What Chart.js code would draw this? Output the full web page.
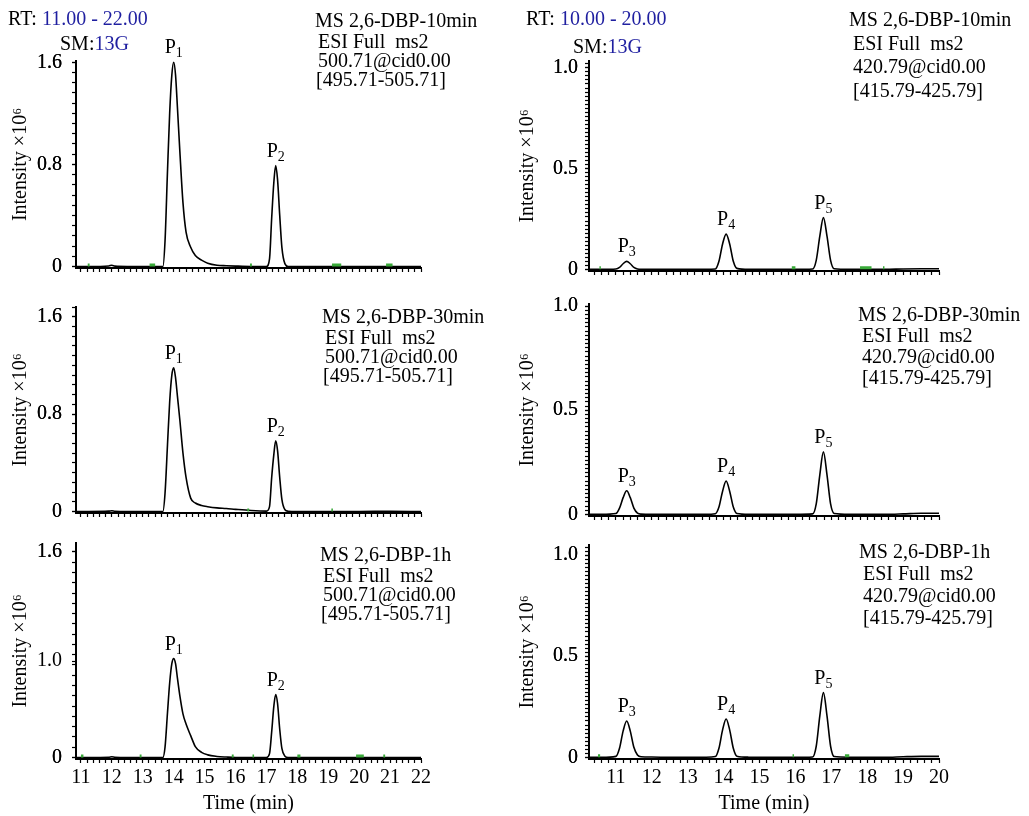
<!DOCTYPE html>
<html>
<head>
<meta charset="utf-8">
<script src="https://cdn.jsdelivr.net/npm/chart.js@4.4.1/dist/chart.umd.min.js"></script>
<style>
  html, body { margin: 0; padding: 0; background: #fff; }
  body { width: 1029px; height: 816px; position: relative; overflow: hidden; }
  canvas { position: absolute; }
</style>
</head>
<body>
<canvas id="tl"></canvas>
<canvas id="tr"></canvas>
<canvas id="ml"></canvas>
<canvas id="mr"></canvas>
<canvas id="bl"></canvas>
<canvas id="br"></canvas>
<script>
// ---- data: m/z 500.71 traces (left column), time in min, intensity x10^6
const timeL = [10.84, 11.25, 11.9, 12.0, 12.1, 12.5, 13.0, 13.5, 13.65, 13.72, 13.8, 13.87, 13.94, 14.0,
  14.06, 14.12, 14.2, 14.3, 14.4, 14.55, 14.7, 14.9, 15.1, 15.4, 15.7, 16.0, 16.5, 17.0, 17.1, 17.17,
  17.24, 17.3, 17.36, 17.43, 17.5, 17.6, 17.7, 18.0, 19.0, 20.0, 21.0, 22.0];
const int10L = [0, 0, 0.004, 0.01, 0.003, 0, 0, 0, 0, 0.2, 0.75, 1.2, 1.5, 1.6,
  1.5, 1.25, 0.9, 0.5, 0.27, 0.15, 0.085, 0.05, 0.026, 0.01, 0.006, 0.003, 0, 0, 0.06, 0.38,
  0.66, 0.79, 0.68, 0.4, 0.15, 0.02, 0, 0, 0, 0, 0, 0];
const int30L = [0, 0, 0.003, 0.006, 0.002, 0, 0, 0, 0, 0.15, 0.55, 0.9, 1.12, 1.18,
  1.1, 0.95, 0.75, 0.48, 0.28, 0.11, 0.07, 0.05, 0.04, 0.03, 0.025, 0.018, 0.008, 0.003, 0.04, 0.28,
  0.47, 0.58, 0.5, 0.28, 0.1, 0.015, 0.003, 0, 0, 0, 0.002, 0];
const int1hL = [0, 0, 0.002, 0.005, 0.002, 0, 0, 0, 0, 0.08, 0.35, 0.58, 0.73, 0.77,
  0.73, 0.62, 0.48, 0.34, 0.26, 0.17, 0.085, 0.04, 0.02, 0.008, 0.003, 0, 0, 0, 0.03, 0.2,
  0.4, 0.49, 0.42, 0.22, 0.07, 0.01, 0, 0, 0, 0, 0, 0];

// ---- data: m/z 420.79 traces (right column)
const timeR = [10.25, 10.6, 11.0, 11.1, 11.2, 11.3, 11.4, 11.5, 11.6, 11.7, 12.0, 12.5, 13.0, 13.5,
  13.77, 13.87, 13.97, 14.07, 14.17, 14.27, 14.37, 14.7, 15.0, 15.5, 16.0, 16.48, 16.58, 16.68,
  16.78, 16.88, 16.98, 17.08, 17.5, 18.0, 18.5, 19.0, 19.5, 20.0];
const int10R = [0, 0, 0.002, 0.01, 0.028, 0.04, 0.028, 0.01, 0.002, 0, 0, 0, 0, 0,
  0.002, 0.04, 0.125, 0.175, 0.125, 0.04, 0.005, 0, 0, 0, 0, 0.002, 0.045, 0.165,
  0.257, 0.165, 0.045, 0.003, 0, 0, 0, 0.002, 0.003, 0.003];
const int30R = [0, 0, 0.004, 0.03, 0.08, 0.113, 0.08, 0.03, 0.006, 0.001, 0, 0, 0, 0,
  0.003, 0.035, 0.11, 0.16, 0.11, 0.035, 0.004, 0, 0, 0, 0, 0.002, 0.05, 0.19,
  0.3, 0.19, 0.05, 0.004, 0, 0, 0, 0.002, 0.005, 0.005];
const int1hR = [0, 0, 0.005, 0.045, 0.13, 0.18, 0.13, 0.05, 0.012, 0.003, 0.002, 0, 0, 0.001,
  0.004, 0.045, 0.135, 0.19, 0.135, 0.045, 0.006, 0.001, 0, 0, 0, 0.002, 0.055, 0.205,
  0.32, 0.205, 0.055, 0.004, 0.001, 0, 0, 0.003, 0.005, 0.005];

// green baseline marks (start, end in min)
const green10L = [[11.22, 11.28], [13.22, 13.4], [16.47, 16.53], [19.12, 19.42], [20.87, 21.08]];
const green30L = [[16.38, 16.44], [19.1, 19.15]];
const green1hL = [[11.0, 11.08], [12.9, 12.96], [15.88, 15.94], [16.55, 16.6], [18.0, 18.1], [19.9, 20.15], [20.78, 20.84]];
const green10R = [[10.54, 10.58], [15.9, 16.0], [17.8, 18.12], [18.44, 18.48]];
const green30R = [];
const green1hR = [[10.5, 10.56], [15.92, 15.96], [17.38, 17.5]];

// peaks
const peakNamesL = ['1', '2'];
const peakTimesL = [14.0, 17.3];
const peakNamesR = ['3', '4', '5'];
const peakTimesR = [11.3, 14.07, 16.78];

// tick labels
const xTickLabelsL = [11, 12, 13, 14, 15, 16, 17, 18, 19, 20, 21, 22];
const xTickLabelsR = [11, 12, 13, 14, 15, 16, 17, 18, 19, 20];
const yTickValsL = [0, 0.8, 1.6];
const yTickTextL = ['0', '0.8', '1.6'];
const yTickVals1hL = [0, 0.75, 1.6];
const yTickText1hL = ['0', '1.0', '1.6'];
const yTickValsR = [0, 0.5, 1.0];
const yTickTextR = ['0', '0.5', '1.0'];

Chart.defaults.font.family = '"Liberation Serif", "Times New Roman", serif';
Chart.defaults.font.size = 20;
Chart.defaults.color = '#000';

const BLUE = '#1f1fa0';
const FONT = '"Liberation Serif", "Times New Roman", serif';

function makeTicks(min, max, step) {
  const out = [];
  for (let i = Math.ceil(min / step - 1e-9); i * step <= max + 1e-9; i++) out.push(+(i * step).toFixed(4));
  return out;
}

function headerL(title, x, y) {
  return [
    { x: x, y: y, parts: [['MS 2,6-DBP-' + title]] },
    { x: x + 3, y: y + 21, parts: [['ESI Full  ms2']] },
    { x: x + 3, y: y + 40, parts: [['500.71@cid0.00']] },
    { x: x + 1, y: y + 59, parts: [['[495.71-505.71]']] }
  ];
}
function headerR(title, x, y, gap) {
  return [
    { x: x, y: y, parts: [['MS 2,6-DBP-' + title]] },
    { x: x + 4, y: y + gap, parts: [['ESI Full  ms2']] },
    { x: x + 4, y: y + gap * 2, parts: [['420.79@cid0.00']] },
    { x: x + 4, y: y + gap * 3, parts: [['[415.79-425.79]']] }
  ];
}

const panels = [
  { id: 'tl', time: timeL, values: int10L, green: green10L, names: peakNamesL, peaks: peakTimesL,
    canvas: [0, 0, 500, 290], area: [76, 61, 421, 274], xMin: 10.84, xMax: 22, yMax: 1.61, yMin: -0.012,
    yVals: yTickValsL, yText: yTickTextL, yStep: 0.08, xLabels: xTickLabelsL, showX: false, titlePad: 9, tickPad: 10,
    notes: [
      { x: 8, y: 20, parts: [['RT: '], ['11.00 - 22.00', BLUE]] },
      { x: 60, y: 45, parts: [['SM:'], ['13G', BLUE]] }
    ].concat(headerL('10min', 315, 22)) },
  { id: 'tr', time: timeR, values: int10R, green: green10R, names: peakNamesR, peaks: peakTimesR,
    canvas: [505, 0, 524, 290], area: [589, 61, 939, 275], xMin: 10.25, xMax: 20, yMax: 1.034, yMin: -0.008,
    yVals: yTickValsR, yText: yTickTextR, yStep: 0.02, xLabels: xTickLabelsR, showX: false, titlePad: 11, tickPad: 7,
    notes: [
      { x: 526, y: 20, parts: [['RT: '], ['10.00 - 20.00', BLUE]] },
      { x: 573, y: 48, parts: [['SM:'], ['13G', BLUE]] }
    ].concat(headerR('10min', 849, 21, 23.5)) },
  { id: 'ml', time: timeL, values: int30L, green: green30L, names: peakNamesL, peaks: peakTimesL,
    canvas: [0, 280, 500, 255], area: [76, 307, 421, 521], xMin: 10.84, xMax: 22, yMax: 1.68, yMin: -0.012,
    yVals: yTickValsL, yText: yTickTextL, yStep: 0.08, xLabels: xTickLabelsL, showX: false, titlePad: 9, tickPad: 10,
    notes: headerL('30min', 322, 318) },
  { id: 'mr', time: timeR, values: int30R, green: green30R, names: peakNamesR, peaks: peakTimesR,
    canvas: [505, 280, 524, 255], area: [589, 304, 939, 518], xMin: 10.25, xMax: 20, yMax: 1.01, yMin: -0.008,
    yVals: yTickValsR, yText: yTickTextR, yStep: 0.02, xLabels: xTickLabelsR, showX: false, titlePad: 11, tickPad: 7,
    notes: headerR('30min', 858, 316, 21) },
  { id: 'bl', time: timeL, values: int1hL, green: green1hL, names: peakNamesL, peaks: peakTimesL,
    canvas: [0, 520, 500, 296], area: [76, 543, 421, 759], xMin: 10.84, xMax: 22, yMax: 1.67, yMin: -0.012,
    yVals: yTickVals1hL, yText: yTickText1hL, yStep: 0.08, xLabels: xTickLabelsL, showX: true, titlePad: 9, tickPad: 10,
    notes: headerL('1h', 320, 556) },
  { id: 'br', time: timeR, values: int1hR, green: green1hR, names: peakNamesR, peaks: peakTimesR,
    canvas: [505, 520, 524, 296], area: [589, 545, 939, 759], xMin: 10.25, xMax: 20, yMax: 1.05, yMin: -0.008,
    yVals: yTickValsR, yText: yTickTextR, yStep: 0.02, xLabels: xTickLabelsR, showX: true, titlePad: 11, tickPad: 7,
    notes: headerR('1h', 859, 553, 22) }
];

function buildPanel(p) {
  const [cl, ct, cw, ch] = p.canvas;
  const [al, at, ar, ab] = p.area;
  const el = document.getElementById(p.id);
  el.width = cw; el.height = ch;
  el.style.left = cl + 'px'; el.style.top = ct + 'px';

  const trace = p.time.map((t, i) => ({ x: t, y: p.values[i] }));
  const greenLevel = p.yMax > 1.2 ? 0.012 : 0.008;
  const marks = [];
  p.green.forEach(([a, b]) => {
    marks.push({ x: a, y: greenLevel }, { x: b, y: greenLevel }, { x: b, y: null });
  });

  const xTickVals = makeTicks(p.xMin, p.xMax, 0.2);
  const yTickVals = makeTicks(0, p.yMax, p.yStep).concat(p.yVals).sort((a, b) => a - b);

  const annotate = {
    id: 'annotate_' + p.id,
    afterDatasetsDraw(chart) {
      const ctx = chart.ctx;
      const xs = chart.scales.x, ys = chart.scales.y;
      ctx.save();
      ctx.fillStyle = '#000';
      ctx.textBaseline = 'alphabetic';
      ctx.textAlign = 'left';
      // peak labels
      p.peaks.forEach((t, k) => {
        let best = 0;
        p.time.forEach((tt, i) => { if (Math.abs(tt - t) < Math.abs(p.time[best] - t)) best = i; });
        const px = xs.getPixelForValue(p.time[best]);
        const py = ys.getPixelForValue(p.values[best]);
        ctx.font = '20px ' + FONT;
        const wP = ctx.measureText('P').width;
        ctx.font = '14px ' + FONT;
        const wS = ctx.measureText(p.names[k]).width;
        const x0 = px - (wP + wS) / 2;
        const base = py - 9;
        ctx.font = '20px ' + FONT;
        ctx.fillText('P', x0, base);
        ctx.font = '14px ' + FONT;
        ctx.fillText(p.names[k], x0 + wP, base + 4);
      });
      // header text
      ctx.font = '20px ' + FONT;
      ctx.textBaseline = 'middle';
      p.notes.forEach(n => {
        let x = n.x - cl;
        n.parts.forEach(([txt, col]) => {
          ctx.fillStyle = col || '#000';
          ctx.fillText(txt, x, n.y - ct);
          x += ctx.measureText(txt).width;
        });
      });
      ctx.restore();
    }
  };

  new Chart(el, {
    type: 'line',
    data: {
      datasets: [
        { data: marks, borderColor: '#3aaa3a', borderWidth: 3, pointRadius: 0, spanGaps: false, order: 0 },
        { data: trace, borderColor: '#000', borderWidth: 1.6, pointRadius: 0, cubicInterpolationMode: 'monotone', order: 1 }
      ]
    },
    options: {
      responsive: false,
      animation: false,
      events: [],
      layout: { padding: { left: 0, top: at - ct, right: cl + cw - ar, bottom: 0 } },
      plugins: { legend: { display: false }, tooltip: { enabled: false } },
      scales: {
        x: {
          type: 'linear',
          min: p.xMin,
          max: p.xMax,
          afterBuildTicks: s => { s.ticks = xTickVals.map(v => ({ value: v })); },
          afterFit: s => { s.height = ct + ch - ab; },
          ticks: {
            display: p.showX,
            autoSkip: false,
            maxRotation: 0,
            padding: 3,
            font: { size: 20 },
            callback: v => (Math.abs(v - Math.round(v)) < 1e-6 && p.xLabels.includes(Math.round(v))) ? String(Math.round(v)) : ''
          },
          grid: { drawOnChartArea: false, drawTicks: true, tickLength: 4, tickColor: '#000', tickWidth: 1.2 },
          border: { display: true, color: '#000', width: 2 },
          title: { display: p.showX, text: 'Time (min)', color: '#000', font: { size: 20 }, padding: { top: 0, bottom: 0 } }
        },
        y: {
          type: 'linear',
          min: p.yMin,
          max: p.yMax,
          afterBuildTicks: s => { s.ticks = yTickVals.map(v => ({ value: v })); },
          afterFit: s => { s.width = al - cl; },
          ticks: {
            autoSkip: false,
            padding: p.tickPad,
            font: { size: 20 },
            callback: v => {
              const k = p.yVals.findIndex(t => Math.abs(t - v) < 1e-6);
              return k >= 0 ? p.yText[k] : '';
            }
          },
          grid: { drawOnChartArea: false, drawTicks: true, tickLength: 4, tickColor: '#000', tickWidth: 1.2 },
          border: { display: true, color: '#000', width: 2 },
          title: { display: true, text: 'Intensity \u00d710\u2076', color: '#000', font: { size: 20 }, padding: { top: p.titlePad, bottom: 0 } }
        }
      }
    },
    plugins: [annotate]
  });
}

panels.forEach(buildPanel);
</script>
</body>
</html>
